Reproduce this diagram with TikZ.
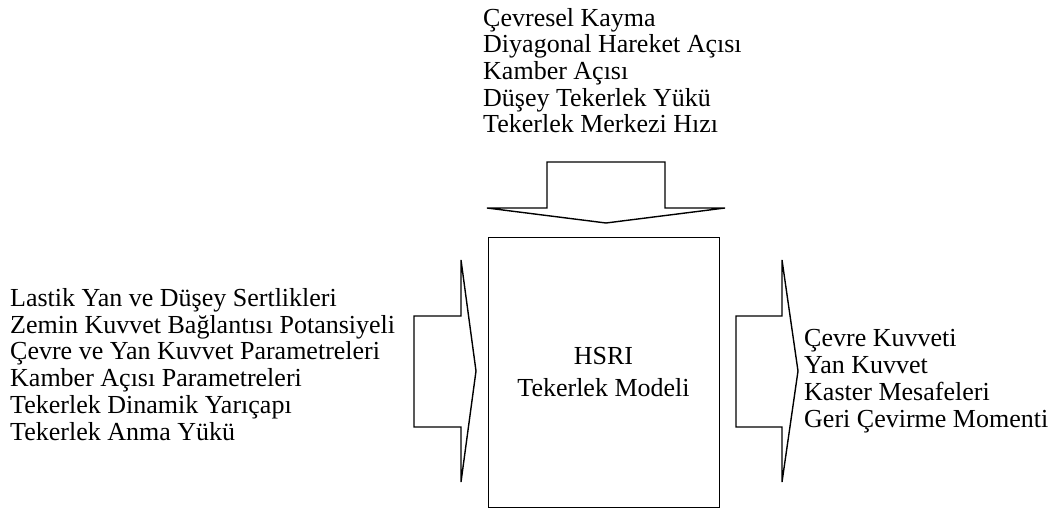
\documentclass[tikz,border=0pt]{standalone}
\usepackage{fontspec}
\setmainfont{Liberation Serif}
\begin{document}
\begin{tikzpicture}[x=1pt,y=-1pt,
  shapeline/.style={draw=black,line width=1.4pt,line join=miter},
  lbl/.style={inner sep=0pt,align=left},
  boxlbl/.style={inner sep=0pt,align=center,font=\fontsize{26}{32}\selectfont}]
\useasboundingbox (0,0) rectangle (1052,510);
% model box
\node[shapeline,minimum width=231pt,minimum height=270pt,inner sep=0pt,anchor=north west] (box) at (488,237) {};
\node[boxlbl] (boxtxt) at (603.5,372) {HSRI\\Tekerlek Modeli};
% top input arrow
\draw[shapeline] (547,162) -- (665,162) -- (665,208) -- (725,208) -- (606,223) -- (487,208) -- (547,208) -- cycle;
% left input arrow
\draw[shapeline] (414,316) -- (461,316) -- (461,260) -- (476,371) -- (461,482) -- (461,427) -- (414,427) -- cycle;
% right output arrow
\draw[shapeline] (736,316) -- (782,316) -- (782,260) -- (798,371) -- (782,482) -- (782,427) -- (736,427) -- cycle;
% texts (base anchor = baseline of last line)
\node[lbl,font=\fontsize{26}{26.7}\selectfont,anchor=base west] (top) at (483,133) {Çevresel Kayma\\Diyagonal Hareket Açısı\\Kamber Açısı\\Düşey Tekerlek Yükü\\Tekerlek Merkezi Hızı};
\node[lbl,font=\fontsize{26}{26.7}\selectfont,anchor=base west] (left) at (10,440) {Lastik Yan ve Düşey Sertlikleri\\Zemin Kuvvet Bağlantısı Potansiyeli\\Çevre ve Yan Kuvvet Parametreleri\\Kamber Açısı Parametreleri\\Tekerlek Dinamik Yarıçapı\\Tekerlek Anma Yükü};
\node[lbl,font=\fontsize{26}{26.7}\selectfont,anchor=base west] (right) at (804,427) {Çevre Kuvveti\\Yan Kuvvet\\Kaster Mesafeleri\\Geri Çevirme Momenti};
\end{tikzpicture}
\end{document}
